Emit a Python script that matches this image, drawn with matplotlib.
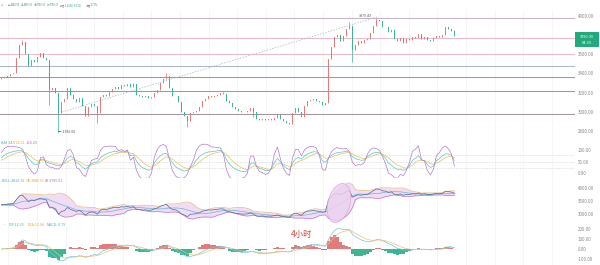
import matplotlib.pyplot as plt
import numpy as np
import pandas as pd
from matplotlib.patches import Ellipse, Rectangle
from matplotlib.transforms import IdentityTransform

plt.rcParams['font.family'] = ['Noto Sans CJK SC', 'DejaVu Sans']

# 4h closes (one bar every ~3 px)
closes = [3350, 3360, 3375, 3390, 3405, 3560, 3700, 3725, 3600, 3480,
          3540, 3520, 3575, 3610, 3565, 3540, 3230, 3250, 3200, 2990,
          3100, 3130, 3250, 3180, 3130, 3100, 3140, 3060, 2960, 3050,
          3080, 3060, 2990, 3150, 3180, 3160, 3210, 3240, 3260, 3240,
          3280, 3270, 3290, 3260, 3290, 3180, 3170, 3150, 3160, 3140,
          3150, 3200, 3230, 3300, 3340, 3370, 3250, 3170, 3160, 3100,
          3000, 2960, 2900, 2990, 3000, 3010, 3050, 3110, 3130, 3160,
          3150, 3170, 3180, 3200, 3190, 3110, 3090, 3050, 3030, 3010,
          3000, 2995, 3005, 3040, 3000, 2920, 2915, 2925, 2910, 2920,
          2915, 2940, 2965, 2920, 2900, 2885, 2875, 2990, 3035, 3000,
          2950, 3060, 3110, 3120, 3130, 3115, 3100, 3070, 3090, 3550,
          3680, 3780, 3800, 3740, 3790, 3860, 3900, 3650, 3700, 3740,
          3720, 3750, 3760, 3820, 3900, 3960, 3950, 3890, 3880, 3830,
          3850, 3760, 3740, 3770, 3720, 3760, 3750, 3780, 3770, 3810,
          3760, 3780, 3750, 3740, 3770, 3790, 3780, 3800, 3880, 3860,
          3844.98, 3790.39]
first_open = 3340
high_wicks = {7: 3750, 44: 3300, 55: 3400, 74: 3210, 116: 3935, 125: 3979.43, 151: 3856.03}
low_wicks = {16: 3070, 19: 2786, 32: 2880, 62: 2840, 84: 2950, 117: 3520}

level_prices = [3979.43, 3768, 3600, 3475, 3360, 3214, 2974]
level_colors = ['#c4b4c8', '#ecbccb', '#ecbccb', '#a9b9c9', '#a8939f', '#a8939f', '#a8939f']

info_labels = ['开', '高', '低', '收', '涨幅', '振幅']
info_values = ['3844.98', '3856.03', '3790.39', '3790.39', '-1.42%(-54.52)', '1.71%']

main_ticks = [4000, 3600, 3400, 3200, 3000, 2800]
kdj_ticks = [100, 50, 0]
boll_ticks = [4000, 3500, 3000]
macd_ticks = [200, 100, 0, -100]

UP = '#e27b7b'
DOWN = '#3db592'
W, H = 600, 265

df = pd.DataFrame({'close': closes})
df['open'] = [first_open] + closes[:-1]
df['high'] = df[['open', 'close']].max(axis=1)
df['low'] = df[['open', 'close']].min(axis=1)
for k, v in high_wicks.items():
    df.loc[k, 'high'] = v
for k, v in low_wicks.items():
    df.loc[k, 'low'] = v
x = np.arange(len(df))
up = df['close'] >= df['open']
colors = np.where(up, UP, DOWN)

# indicators (periods halved: one bar here stands for two bars of the original)
llv = df['low'].rolling(5, min_periods=1).min()
hhv = df['high'].rolling(5, min_periods=1).max()
rsv = ((df['close'] - llv) / (hhv - llv).replace(0, 1) * 100).values
K, D = [], []
kp, dp = 50.0, 50.0
for r in rsv:
    kp = kp * 2 / 3 + r / 3
    dp = dp * 2 / 3 + kp / 3
    K.append(kp)
    D.append(dp)
K, D = np.array(K), np.array(D)
J = 3 * K - 2 * D

mb = df['close'].rolling(10, min_periods=1).mean()
sd = df['close'].rolling(10, min_periods=2).std(ddof=0).fillna(0)
ub, lb = mb + 2 * sd, mb - 2 * sd

ema_fast = df['close'].ewm(span=6, adjust=False).mean()
ema_slow = df['close'].ewm(span=13, adjust=False).mean()
dif = ema_fast - ema_slow
dea = dif.ewm(span=5, adjust=False).mean()
hist = 2 * (dif - dea)

fig = plt.figure(figsize=(6, 2.65), dpi=100)


def px_axes(top, bottom, ylim, ticks):
    ax = fig.add_axes([0, 1 - bottom / H, 575 / W, (bottom - top) / H])
    ax.set_xlim(-0.5, 191.2)
    ax.set_ylim(*ylim)
    for s in ax.spines.values():
        s.set_visible(False)
    ax.set_xticks([])
    ax.yaxis.tick_right()
    ax.set_yticks(ticks)
    ax.set_yticklabels(['%.2f' % t for t in ticks])
    ax.tick_params(axis='y', length=0, labelsize=3.2, labelcolor='#888888', pad=2)
    ax.patch.set_alpha(0)
    for gx in np.arange(8.4, 575, 28.6):
        ax.axvline((gx - 1.5) / 3, color='#f1f1f1', lw=0.5, zorder=0)
    return ax


def ftext(px, py, s, **kw):
    fig.text(px / W, 1 - py / H, s, va='center', **kw)


def candles(ax, lw=0.5, width=0.6):
    ax.vlines(x, df['low'], df['high'], colors=colors, lw=lw, zorder=3)
    body = np.maximum((df['close'] - df['open']).abs(), 4)
    ax.bar(x, body, bottom=df[['open', 'close']].min(axis=1), width=width,
           color=colors, lw=0, zorder=4)


# main price panel
ax1 = px_axes(10, 137, (2736.8, 4062.6), main_ticks)
for p, c in zip(level_prices, level_colors):
    ax1.axhline(p, color=c, lw=0.75, zorder=1)
candles(ax1)
t0, t1 = (62 - 1.5) / 3, (377 - 1.5) / 3
ax1.plot([t0, t1], [4000 - (112 - 16) * 10.44, 4000 - (17 - 16) * 10.44],
         ls=(0, (2, 2)), color='#9fb3c8', lw=0.5, zorder=2)
ax1.text(18.8, 2786, '\u2190 2786.00', fontsize=2.6, color='#555555', va='center')
ax1.text(123.5, 3995, '3979.43', fontsize=2.6, color='#555555', va='center', ha='right')

# KDJ panel
ax2 = px_axes(137, 178, (-21.7, 156.5), kdj_ticks)
for v in (80, 50, 20):
    ax2.axhline(v, color='#d4d4d4', lw=0.5, ls=(0, (2, 2)), zorder=1)
ax2.plot(x, K, color='#58c4c8', lw=0.5)
ax2.plot(x, D, color='#e6c25a', lw=0.5)
ax2.plot(x, J, color='#b377d2', lw=0.5)

# BOLL panel
ax3 = px_axes(178, 222, (2692.3, 4384.6), boll_ticks)
ax3.fill_between(x, lb, ub, color='#f2dcf5', lw=0, zorder=1)
ax3.plot(x, ub, color='#e6b87a', lw=0.5, zorder=2)
ax3.plot(x, lb, color='#b87ad0', lw=0.5, zorder=2)
ax3.plot(x, mb, color='#62b8d8', lw=0.5, zorder=2)
ax3.plot(x, df['close'], color='#4d6c96', lw=0.5, zorder=3)

# MACD panel
ax4 = px_axes(222, 265, (-160, 270), macd_ticks)
ax4.bar(x, hist, width=0.9, color=np.where(hist >= 0, UP, DOWN), lw=0, zorder=2)
ax4.plot(x, dif, color='#6cc8dc', lw=0.5, zorder=3)
ax4.plot(x, dea, color='#e6c27e', lw=0.5, zorder=3)

fig.add_artist(Ellipse((339, H - 203), 22, 40, angle=-15, transform=IdentityTransform(),
                       facecolor='#ebd3f0', edgecolor='#d9a6d6', lw=0.6, alpha=0.8))

# header info line
ftext(1, 5, '\u2299', fontsize=1.8, color='#999999')
pos = [(8, 10.5), (21, 23.5), (34, 36.5), (47, 49.5), (60, 65), (86, 91)]
for (lx, vx), lab, val in zip(pos, info_labels, info_values):
    ftext(lx, 5, lab, fontsize=1.8, color='#888888')
    ftext(vx, 5, val, fontsize=1.8, color='#2aa37a')

# legends
ftext(1, 143, 'K:48.24', fontsize=2.6, color='#3fb3b6')
ftext(13, 143, 'D:64.21', fontsize=2.6, color='#d8ac2c')
ftext(26, 143, 'J:16.29', fontsize=2.6, color='#a765c8')
ftext(2, 181, 'BOLL:3813.72', fontsize=2.6, color='#3fa3c8')
ftext(26, 181, 'UB:3880.55', fontsize=2.6, color='#d8ac2c')
ftext(45, 181, 'LB:3705.01', fontsize=2.6, color='#a765c8')
ftext(3, 225, '\u2022', fontsize=2.6, color='#888888')
ftext(9, 225, 'DIF:12.25', fontsize=2.6, color='#3fb3b6')
ftext(28, 225, 'DEA:13.04', fontsize=2.6, color='#d8ac2c')
ftext(47, 225, 'MACD:-0.79', fontsize=2.6, color='#3fb3b6')

ftext(302, 234, '4小时', fontsize=6, color='#d0443c', ha='center')

# last price tag
fig.add_artist(Rectangle((575 / W, 1 - 47 / H), 24 / W, 15 / H, transform=fig.transFigure,
                         color='#22a97c', lw=0))
ftext(587, 36.5, '3790.39', fontsize=2.8, color='white', ha='center')
ftext(587, 43, '04:33', fontsize=2.8, color='white', ha='center')

fig.savefig('out.png', dpi=100)
